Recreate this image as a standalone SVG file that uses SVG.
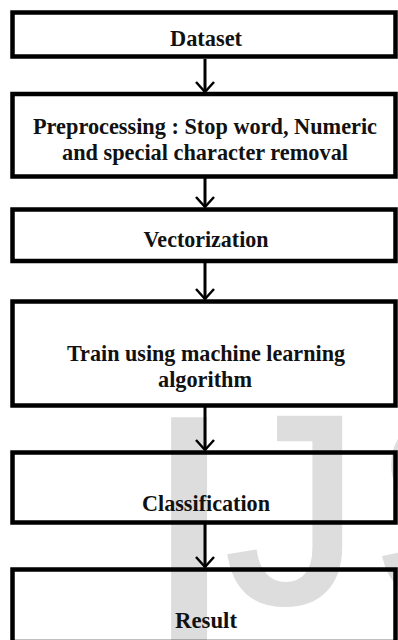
<svg xmlns="http://www.w3.org/2000/svg" width="398" height="640" viewBox="0 0 398 640">
  <style>
    .box { fill: none; stroke: #000; stroke-width: 4.5; }
    .lbl { font-family: "Liberation Serif", "Times New Roman", serif; font-weight: bold; font-size: 24px; fill: #111; text-anchor: middle; }
    .wm { font-family: "Liberation Sans", Arial, sans-serif; font-size: 267px; fill: #dddddd; stroke: #dddddd; stroke-width: 5; }
    .conn { stroke: #000; stroke-width: 3; fill: none; }
  </style>
  <defs>
    <marker id="arrow" markerUnits="userSpaceOnUse" viewBox="-12 -12 14 24" markerWidth="14" markerHeight="24" refX="0" refY="0" orient="auto" overflow="visible">
      <path d="M-10,-9 L0,0 L-10,9" fill="none" stroke="#000" stroke-width="2.5"/>
    </marker>
  </defs>
  <rect x="0" y="0" width="398" height="640" fill="#fff"/>

  <g id="watermark">
    <text class="wm" transform="translate(152,648) scale(1,1.22)" x="0" y="0" style="stroke-width:11">I</text>
    <text class="wm" x="226" y="602">J</text>
    <text class="wm" x="373" y="602">S</text>
  </g>

  <g id="connectors">
    <line class="conn" x1="205" y1="59" x2="205" y2="92" marker-end="url(#arrow)"/>
    <line class="conn" x1="205" y1="178" x2="205" y2="207" marker-end="url(#arrow)"/>
    <line class="conn" x1="205" y1="263" x2="205" y2="299" marker-end="url(#arrow)"/>
    <line class="conn" x1="205" y1="407" x2="205" y2="450" marker-end="url(#arrow)"/>
    <line class="conn" x1="205" y1="524" x2="205" y2="567" marker-end="url(#arrow)"/>
  </g>

  <g id="dataset">
    <rect class="box" x="12.5" y="12.5" width="383" height="44"/>
    <text class="lbl" x="206" y="46" textLength="72" lengthAdjust="spacingAndGlyphs">Dataset</text>
  </g>

  <g id="preprocessing">
    <rect class="box" x="12.5" y="94" width="383" height="82.5"/>
    <text class="lbl" x="205" y="134" textLength="344" lengthAdjust="spacingAndGlyphs">Preprocessing : Stop word, Numeric</text>
    <text class="lbl" x="205" y="160" textLength="286" lengthAdjust="spacingAndGlyphs">and special character removal</text>
  </g>

  <g id="vectorization">
    <rect class="box" x="12.5" y="209.5" width="383" height="51.5"/>
    <text class="lbl" x="206" y="247" textLength="125" lengthAdjust="spacingAndGlyphs">Vectorization</text>
  </g>

  <g id="train">
    <rect class="box" x="12.5" y="301.5" width="383" height="104"/>
    <text class="lbl" x="206" y="361" textLength="278" lengthAdjust="spacingAndGlyphs">Train using machine learning</text>
    <text class="lbl" x="205" y="387" textLength="94" lengthAdjust="spacingAndGlyphs">algorithm</text>
  </g>

  <g id="classification">
    <rect class="box" x="12.5" y="452.5" width="383" height="70"/>
    <text class="lbl" x="206" y="511" textLength="128" lengthAdjust="spacingAndGlyphs">Classification</text>
  </g>

  <g id="result">
    <rect class="box" x="12.5" y="569.5" width="383" height="72.5"/>
    <text class="lbl" x="206" y="628" textLength="62" lengthAdjust="spacingAndGlyphs">Result</text>
  </g>
</svg>
